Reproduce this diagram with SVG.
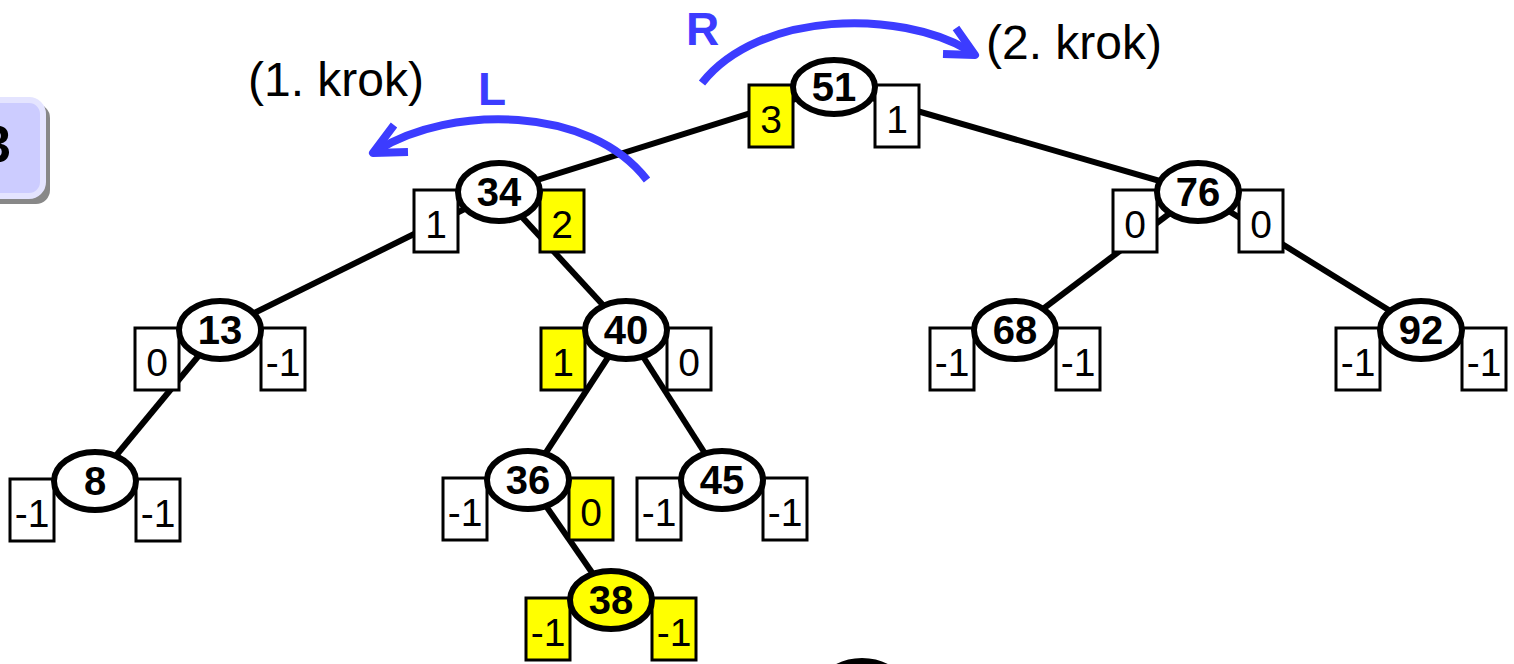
<svg xmlns="http://www.w3.org/2000/svg" width="1514" height="664" viewBox="0 0 1514 664">
<style>
.edge{stroke:#000;stroke-width:6;fill:none}
.nd{fill:#fff;stroke:#000;stroke-width:6}
.nd.hl{fill:#ffff00}
.bx{fill:#fff;stroke:#000;stroke-width:3}
.bx.hl{fill:#ffff00}
.nt{font-family:"Liberation Sans",Arial,sans-serif;font-weight:bold;font-size:40px;text-anchor:middle}
.bt{font-family:"Liberation Sans",Arial,sans-serif;font-size:39px;text-anchor:middle}
.lbl{font-family:"Liberation Sans",Arial,sans-serif;font-size:48px}
.rot{stroke:#3c3cff;stroke-width:8;fill:none;stroke-linejoin:round}
.rl{font-family:"Liberation Sans",Arial,sans-serif;font-weight:bold;font-size:46px;fill:#3c3cff}
</style>
<rect width="1514" height="664" fill="#fff"/>
<g id="step-badge">
<rect x="-30" y="104" width="80" height="100" rx="14" fill="#888"/>
<rect x="-36" y="100" width="79" height="96" rx="14" fill="#ccccff" stroke="#e4e4ff" stroke-width="6"/>
<text x="11" y="162" class="nt" style="font-size:52px;text-anchor:end">3</text>
</g>
<g id="connectors">
<line class="edge" x1="834" y1="87" x2="499" y2="192"/>
<line class="edge" x1="834" y1="87" x2="1198" y2="192"/>
<line class="edge" x1="499" y1="192" x2="220" y2="330"/>
<line class="edge" x1="499" y1="192" x2="626" y2="330"/>
<line class="edge" x1="220" y1="330" x2="95" y2="481"/>
<line class="edge" x1="626" y1="330" x2="528" y2="480"/>
<line class="edge" x1="626" y1="330" x2="722" y2="480"/>
<line class="edge" x1="528" y1="480" x2="611" y2="600"/>
<line class="edge" x1="1198" y1="192" x2="1015" y2="330"/>
<line class="edge" x1="1198" y1="192" x2="1421" y2="330"/>
</g>
<g id="n51">
<rect class="bx hl" x="749" y="85" width="44" height="62"/><text class="bt" x="771" y="133">3</text>
<rect class="bx" x="875" y="85" width="44" height="62"/><text class="bt" x="897" y="133">1</text>
<ellipse class="nd" cx="834" cy="87" rx="41" ry="27"/><text class="nt" x="834" y="101">51</text>
</g>
<g id="n34">
<rect class="bx" x="414" y="190" width="44" height="62"/><text class="bt" x="436" y="238">1</text>
<rect class="bx hl" x="540" y="190" width="44" height="62"/><text class="bt" x="562" y="238">2</text>
<ellipse class="nd" cx="499" cy="192" rx="41" ry="29"/><text class="nt" x="499" y="206">34</text>
</g>
<g id="n76">
<rect class="bx" x="1113" y="190" width="44" height="62"/><text class="bt" x="1135" y="238">0</text>
<rect class="bx" x="1239" y="190" width="44" height="62"/><text class="bt" x="1261" y="238">0</text>
<ellipse class="nd" cx="1198" cy="192" rx="41" ry="29"/><text class="nt" x="1198" y="206">76</text>
</g>
<g id="n13">
<rect class="bx" x="135" y="328" width="44" height="62"/><text class="bt" x="157" y="376">0</text>
<rect class="bx" x="261" y="328" width="44" height="62"/><text class="bt" x="283" y="376">-1</text>
<ellipse class="nd" cx="220" cy="330" rx="41" ry="29"/><text class="nt" x="220" y="344">13</text>
</g>
<g id="n40">
<rect class="bx hl" x="541" y="328" width="44" height="62"/><text class="bt" x="563" y="376">1</text>
<rect class="bx" x="667" y="328" width="44" height="62"/><text class="bt" x="689" y="376">0</text>
<ellipse class="nd" cx="626" cy="330" rx="41" ry="29"/><text class="nt" x="626" y="344">40</text>
</g>
<g id="n68">
<rect class="bx" x="930" y="328" width="44" height="62"/><text class="bt" x="952" y="376">-1</text>
<rect class="bx" x="1056" y="328" width="44" height="62"/><text class="bt" x="1078" y="376">-1</text>
<ellipse class="nd" cx="1015" cy="330" rx="41" ry="29"/><text class="nt" x="1015" y="344">68</text>
</g>
<g id="n92">
<rect class="bx" x="1336" y="328" width="44" height="62"/><text class="bt" x="1358" y="376">-1</text>
<rect class="bx" x="1462" y="328" width="44" height="62"/><text class="bt" x="1484" y="376">-1</text>
<ellipse class="nd" cx="1421" cy="330" rx="41" ry="29"/><text class="nt" x="1421" y="344">92</text>
</g>
<g id="n8">
<rect class="bx" x="10" y="479" width="44" height="62"/><text class="bt" x="32" y="527">-1</text>
<rect class="bx" x="136" y="479" width="44" height="62"/><text class="bt" x="158" y="527">-1</text>
<ellipse class="nd" cx="95" cy="481" rx="41" ry="29"/><text class="nt" x="95" y="495">8</text>
</g>
<g id="n36">
<rect class="bx" x="443" y="478" width="44" height="62"/><text class="bt" x="465" y="526">-1</text>
<rect class="bx hl" x="569" y="478" width="44" height="62"/><text class="bt" x="591" y="526">0</text>
<ellipse class="nd" cx="528" cy="480" rx="41" ry="29"/><text class="nt" x="528" y="494">36</text>
</g>
<g id="n45">
<rect class="bx" x="637" y="478" width="44" height="62"/><text class="bt" x="659" y="526">-1</text>
<rect class="bx" x="763" y="478" width="44" height="62"/><text class="bt" x="785" y="526">-1</text>
<ellipse class="nd" cx="722" cy="480" rx="41" ry="29"/><text class="nt" x="722" y="494">45</text>
</g>
<g id="n38">
<rect class="bx hl" x="526" y="598" width="44" height="62"/><text class="bt" x="548" y="646">-1</text>
<rect class="bx hl" x="652" y="598" width="44" height="62"/><text class="bt" x="674" y="646">-1</text>
<ellipse class="nd hl" cx="611" cy="600" rx="41" ry="29"/><text class="nt" x="611" y="614">38</text>
</g>
<g id="n-bottom">
<ellipse class="nd" cx="862" cy="690" rx="41" ry="29"/>
</g>
<g id="rotations">
<path class="rot" d="M702 83 C760 10 900 10 968 50"/>
<path class="rot" d="M956 28 L975 55 L943 54"/>
<text class="rl" x="686" y="45">R</text>
<path class="rot" d="M647 180 C590 105 450 105 378 150"/>
<path class="rot" d="M394 125 L373 153 L408 152"/>
<text class="rl" x="478" y="105">L</text>
</g>
<text class="lbl" x="248" y="96">(1. krok)</text>
<text class="lbl" x="986" y="59">(2. krok)</text>
</svg>
